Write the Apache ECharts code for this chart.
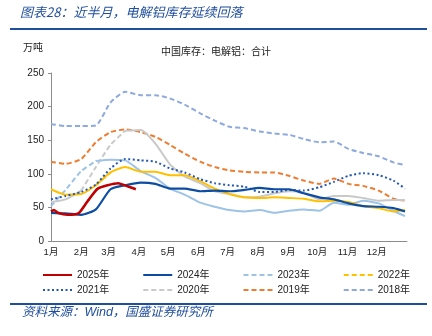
<!DOCTYPE html>
<html>
<head>
<meta charset="utf-8">
<script src="https://cdn.jsdelivr.net/npm/echarts@6/dist/echarts.min.js"></script>
<style>
  html, body { margin: 0; padding: 0; background: #fff; }
  #chart { width: 432px; height: 336px; }
</style>
</head>
<body>
<div id="chart"></div>
<script>
// Month labels on the day-of-year axis
const monthLabels = ['1月', '2月', '3月', '4月', '5月', '6月', '7月', '8月', '9月', '10月', '11月', '12月'];
const monthStartDays = [0, 31, 59, 90, 120, 151, 181, 212, 243, 273, 304, 334];
const yTicks = [0, 50, 100, 150, 200, 250];

// Sampling days (day of year) shared by the full-year series
const days = [0, 15, 31, 46, 61, 76, 92, 107, 122, 137, 153, 168, 183, 198, 214, 229, 244, 259, 275, 290, 305, 320, 336, 351, 363];

// Electrolytic aluminium inventory, 10k tonnes
const days2025 = [0, 3, 7, 17, 28, 35, 41, 48, 58, 69, 79, 87];
const inv2025 = [44, 46, 42, 39, 41, 54, 66, 78, 83, 86, 81, 77];
const inv2024 = [42, 41, 39, 47, 77, 83, 87, 85, 78, 78, 74, 75, 74, 76, 79, 77, 77, 71, 65, 62, 56, 52, 51, 49, 44];
const inv2023 = [52, 76, 104, 119, 121, 120, 104, 94, 78, 69, 57, 51, 46, 44, 46, 42, 45, 47, 45, 57, 54, 60, 56, 45, 37];
const inv2022 = [77, 69, 70, 83, 102, 110, 103, 103, 98, 98, 89, 78, 70, 65, 64, 65, 64, 63, 59, 60, 58, 52, 49, 44, 46];
const inv2021 = [62, 67, 73, 84, 108, 122, 120, 118, 108, 102, 92, 86, 83, 81, 73, 73, 76, 75, 80, 88, 97, 101, 98, 90, 78];
const inv2020 = [58, 62, 75, 110, 143, 164, 165, 145, 114, 96, 86, 74, 70, 65, 66, 71, 74, 72, 62, 67, 67, 64, 60, 61, 61];
const inv2019 = [118, 115, 122, 147, 162, 166, 162, 155, 143, 130, 118, 110, 105, 103, 102, 102, 97, 90, 85, 93, 85, 82, 75, 63, 60];
const inv2018 = [174, 171, 171, 172, 206, 222, 217, 217, 212, 203, 190, 179, 170, 168, 163, 160, 158, 152, 147, 148, 137, 131, 126, 117, 113];

const seriesNames = ['2025年', '2024年', '2023年', '2022年', '2021年', '2020年', '2019年', '2018年'];

const BLUE_TEXT = '#1F4E9D';
const DASH = [5, 3];
const DOT = [2, 2.5];

function pairs(xs, ys, keep) {
  return xs.map((d, i) => [d, keep(i) ? ys[i] : null]);
}

function line(name, xs, ys, color, dash, width, z, keep) {
  return {
    name: name,
    type: 'line',
    data: pairs(xs, ys, keep || (() => true)),
    symbol: 'none',
    smooth: 0.2,
    z: z,
    lineStyle: { color: color, width: width, type: dash, cap: 'butt' },
    itemStyle: { color: color },
    emphasis: { disabled: true }
  };
}

// Solid line with a dashed stretch between sample indices a..b
function splitLine(name, ys, color, width, z, a, b) {
  return [
    line(name, days, ys, color, 'solid', width, z, i => !(i > a && i < b)),
    line(name, days, ys, color, DASH, width, z, i => i >= a && i <= b)
  ];
}

const series = [
  line('2025年', days2025, inv2025, '#C00000', 'solid', 2.6, 9),
  line('2024年', days, inv2024, '#0C4DA2', 'solid', 2.2, 8),
  ...splitLine('2023年', inv2023, '#9DC3E6', 2, 6, 0, 3),
  ...splitLine('2022年', inv2022, '#FFC000', 2, 6, 3, 4),
  line('2021年', days, inv2021, '#2458B4', DOT, 2, 7),
  ...splitLine('2020年', inv2020, '#C9C9C9', 2, 5, 2, 5),
  line('2019年', days, inv2019, '#ED7D31', DASH, 2, 4),
  line('2018年', days, inv2018, '#8EA9DB', DASH, 2, 3)
];

const dashedLegend = ['2023年', '2022年', '2020年'];

function legendRow(names, top) {
  return {
    orient: 'horizontal',
    top: top,
    left: 42,
    padding: 0,
    itemGap: 33,
    itemWidth: 29,
    itemHeight: 10,
    selectedMode: false,
    itemStyle: { opacity: 0 },
    textStyle: { fontSize: 10, color: '#222', fontFamily: 'Liberation Sans, Noto Sans CJK SC' },
    data: names.map(n => dashedLegend.includes(n)
      ? { name: n, lineStyle: { type: DASH } }
      : { name: n })
  };
}

const chart = echarts.init(document.getElementById('chart'), null, { renderer: 'canvas' });

chart.setOption({
  animation: false,
  backgroundColor: '#ffffff',
  title: [
    {
      text: '图表28：近半月，电解铝库存延续回落',
      left: 20, top: 6, padding: 0,
      textStyle: { fontSize: 13, fontStyle: 'italic', fontWeight: 'normal', color: BLUE_TEXT, fontFamily: 'Noto Sans CJK SC' }
    },
    {
      text: '万吨',
      left: 23, top: 42, padding: 0,
      textStyle: { fontSize: 10, fontWeight: 'normal', color: '#222', fontFamily: 'Noto Sans CJK SC' }
    },
    {
      text: '中国库存：电解铝：合计',
      left: 161, top: 46, padding: 0,
      textStyle: { fontSize: 10, fontWeight: 'normal', color: '#222', fontFamily: 'Noto Sans CJK SC' }
    },
    {
      text: '资料来源：Wind，国盛证券研究所',
      left: 22, top: 306, padding: 0,
      textStyle: { fontSize: 12.5, fontStyle: 'italic', fontWeight: 'normal', color: BLUE_TEXT, fontFamily: 'Liberation Sans, Noto Sans CJK SC' }
    }
  ],
  graphic: [
    { type: 'line', shape: { x1: 10, y1: 29, x2: 427, y2: 29 }, style: { stroke: BLUE_TEXT, lineWidth: 2 } },
    { type: 'line', shape: { x1: 10, y1: 304, x2: 427, y2: 304 }, style: { stroke: BLUE_TEXT, lineWidth: 2 } }
  ],
  legend: [
    legendRow(seriesNames.slice(0, 4), 270),
    legendRow(seriesNames.slice(4), 285)
  ],
  grid: { left: 51, right: 25, top: 73, bottom: 95, containLabel: false },
  xAxis: {
    type: 'value',
    min: 0,
    max: 365,
    splitLine: { show: false },
    axisLine: { show: true, lineStyle: { color: '#8C8C8C', width: 1 } },
    axisTick: { show: false },
    axisLabel: {
      customValues: monthStartDays,
      formatter: v => monthLabels[monthStartDays.indexOf(v)],
      fontSize: 9.5,
      color: '#222',
      margin: 7,
      fontFamily: 'Liberation Sans, Noto Sans CJK SC'
    }
  },
  yAxis: {
    type: 'value',
    min: yTicks[0],
    max: yTicks[yTicks.length - 1],
    interval: 50,
    splitLine: { show: false },
    axisLine: { show: true, lineStyle: { color: '#8C8C8C', width: 1 } },
    axisTick: { show: true, length: 3, lineStyle: { color: '#8C8C8C' } },
    axisLabel: { fontSize: 10, color: '#222', margin: 7, fontFamily: 'Liberation Sans' }
  },
  series: series
});
</script>
</body>
</html>
